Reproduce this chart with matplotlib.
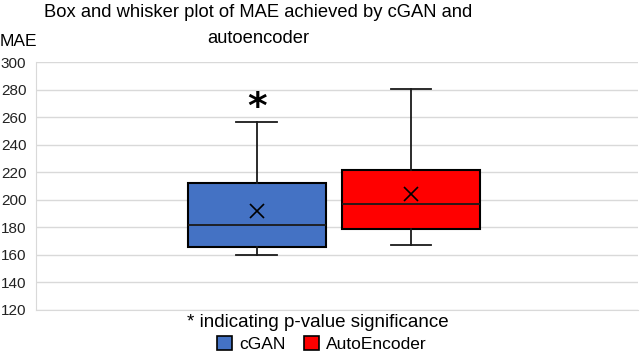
import matplotlib
matplotlib.use("Agg")
import matplotlib.pyplot as plt
from matplotlib.patches import Patch

plt.rcParams['font.family'] = ['Liberation Sans', 'DejaVu Sans']

# values
models = ["cGAN", "AutoEncoder"]
whis_lo = [160, 167]
q1 = [166, 179]
median = [181.5, 197]
q3 = [212, 222]
whis_hi = [256.5, 281]
mean = [192, 204.5]
colors = ["#4472C4", "#FF0000"]
yticks = list(range(120, 301, 20))

stats = []
for i, m in enumerate(models):
    stats.append(dict(label=m, whislo=whis_lo[i], q1=q1[i], med=median[i],
                      q3=q3[i], whishi=whis_hi[i], mean=mean[i]))

fig = plt.figure(figsize=(6.4, 3.57), dpi=100)
ax = fig.add_axes([0.05625, 0.1317, 0.941, 0.6933])

bp = ax.bxp(stats, positions=[1, 2], widths=0.893, showmeans=True,
            patch_artist=True, showfliers=False,
            boxprops=dict(linewidth=1.5, edgecolor="black"),
            medianprops=dict(color="#1a1a1a", linewidth=1.3),
            whiskerprops=dict(color="#1a1a1a", linewidth=1.3),
            capprops=dict(color="#1a1a1a", linewidth=1.3),
            meanprops=dict(marker="x", markeredgecolor="black",
                           markersize=9.5, markeredgewidth=1.2))
for cap in bp["caps"]:
    xs = cap.get_xdata()
    c = (xs[0] + xs[1]) / 2
    cap.set_xdata([c - 0.13, c + 0.13])
for patch, col in zip(bp["boxes"], colors):
    patch.set_facecolor(col)

ax.text(1, 267, "*", ha="center", va="center", fontsize=27,
        fontweight="bold", family="DejaVu Sans")

ax.set_xlim(-0.427, 3.469)
ax.set_ylim(120, 300)
ax.set_yticks(yticks)
ax.set_xticks([])
ax.tick_params(axis="y", length=0, labelsize=11, pad=7, colors="#222222")
ax.grid(axis="y", color="#d9d9d9", linewidth=1)
ax.set_axisbelow(True)
for s in ["top", "right"]:
    ax.spines[s].set_visible(False)
for s in ["left", "bottom"]:
    ax.spines[s].set_color("#d9d9d9")

fig.text(0.403, 0.928, "Box and whisker plot of MAE achieved by cGAN and\nautoencoder",
         ha="center", va="center", fontsize=13.2, linespacing=1.7)
fig.text(0.0, 0.885, "MAE", ha="left", va="center", fontsize=12.5)
fig.text(0.497, 0.098, "* indicating p-value significance", ha="center",
         va="center", fontsize=13.5)

handles = [Patch(facecolor=c, edgecolor="black", linewidth=1.2) for c in colors]
fig.legend(handles, models, loc="center", bbox_to_anchor=(0.503, 0.036),
           ncol=2, frameon=False, fontsize=12.5, handlelength=0.85,
           handleheight=0.9, handletextpad=0.4, columnspacing=1.1)

fig.savefig("out.png", dpi=100)
